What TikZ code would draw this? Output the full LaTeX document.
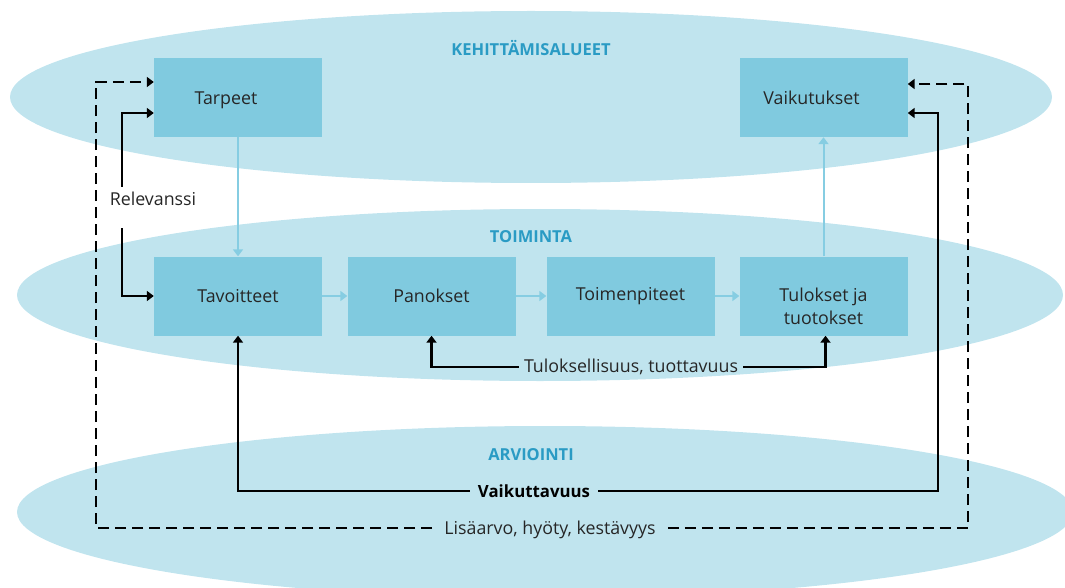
\documentclass[tikz,border=0pt]{standalone}
\usepackage{fontspec}
\setmainfont{Open Sans}
\usetikzlibrary{arrows.meta,calc}
\definecolor{ellc}{HTML}{C0E4EE}
\definecolor{boxc}{HTML}{80CADF}
\definecolor{titc}{HTML}{2A9BC4}
\definecolor{lightarr}{HTML}{86CDE2}
\tikzset{
  lay/.style={fill=ellc, draw=none},
  stepbox/.style={fill=boxc, draw=none, minimum width=168pt, minimum height=79pt, inner sep=0pt, align=center, font=\fontsize{17.8}{23}\selectfont, text=black!85},
  ttl/.style={font=\bfseries\fontsize{16.5}{20}\selectfont, text=titc},
  lbl/.style={font=\fontsize{17.8}{21}\selectfont, text=black!85, inner sep=0pt},
  flow/.style={draw=lightarr, line width=2pt, -{Triangle[length=7pt,width=10pt]}},
  fb/.style={draw=black, line width=2.6pt, -{Triangle[length=7pt,width=10pt]}},
  fbd/.style={fb, dash pattern=on 11pt off 6pt},
}
\begin{document}
\begin{tikzpicture}[x=1pt,y=-1pt]
\useasboundingbox (0,0) rectangle (1065,588);
% layers
\fill[lay] (531,97) ellipse [x radius=521, y radius=86];
\fill[lay] (540,295) ellipse [x radius=523, y radius=86];
\fill[lay] (545,512) ellipse [x radius=528, y radius=86];
% titles
\node[ttl] (t1) at (531,48) {KEHITTÄMISALUEET};
\node[ttl] (t2) at (531,237) {TOIMINTA};
\node[ttl] (t3) at (531,455) {ARVIOINTI};
% boxes
\node[stepbox] (tarpeet) at (238,97.5) {\hspace*{-24pt}\raisebox{-3pt}[\height][\depth]{Tarpeet}};
\node[stepbox] (vaikutukset) at (823.5,97.5) {\hspace*{-24pt}Vaikutukset};
\node[stepbox] (tavoitteet) at (238,296) {Tavoitteet};
\node[stepbox] (panokset) at (431.5,296) {Panokset};
\node[stepbox] (toimen) at (630.5,296) {Toimenpiteet};
\node[stepbox] (tulokset) at (823.5,296) {\raisebox{-12pt}[\height][\depth]{\begin{tabular}{@{}c@{}}Tulokset ja\\tuotokset\end{tabular}}};
% light flow arrows
\draw[flow] (tarpeet.south) -- (tavoitteet.north);
\draw[flow] (tavoitteet.east) -- (panokset.west);
\draw[flow] (panokset.east) -- (toimen.west);
\draw[flow] (toimen.east) -- (tulokset.west);
\draw[flow] (tulokset.north) -- (vaikutukset.south);
% labels
\node[lbl] (rel) at (153,199) {Relevanssi};
\node[lbl, inner xsep=5pt] (tul) at (631,367) {Tuloksellisuus, tuottavuus};
\node[lbl, inner xsep=8pt, font=\bfseries\fontsize{16.8}{20}\selectfont, text=black] (vai) at (534,491) {Vaikuttavuus};
\node[lbl, inner xsep=12pt] (lisa) at (550,530) {Lisäarvo, hyöty, kestävyys};
% helper coordinates
\coordinate (r1) at (122,187);
\coordinate (r2) at (122,228);
\coordinate (vr) at (938,491);
\coordinate (dl) at (96,528);
\coordinate (dr) at (968,528);
% feedback arrows
\draw[fb] (r1) |- ([yshift=-15.5pt]tarpeet.west);
\draw[fb] (r2) |- (tavoitteet.west);
\draw[fb] (tul.west) -| (panokset.south);
\draw[fb] (tul.east) -| ([xshift=2pt]tulokset.south);
\draw[fb] (vai.west) -| (tavoitteet.south);
\draw[fb] (vai.east) -- (vr) |- ([yshift=-15.5pt]vaikutukset.east);
\draw[fbd] (lisa.west |- dl) -- (dl) |- ([yshift=15.5pt]tarpeet.west);
\draw[fbd] (lisa.east |- dr) -- (dr) |- ([yshift=13.5pt]vaikutukset.east);
\end{tikzpicture}
\end{document}
